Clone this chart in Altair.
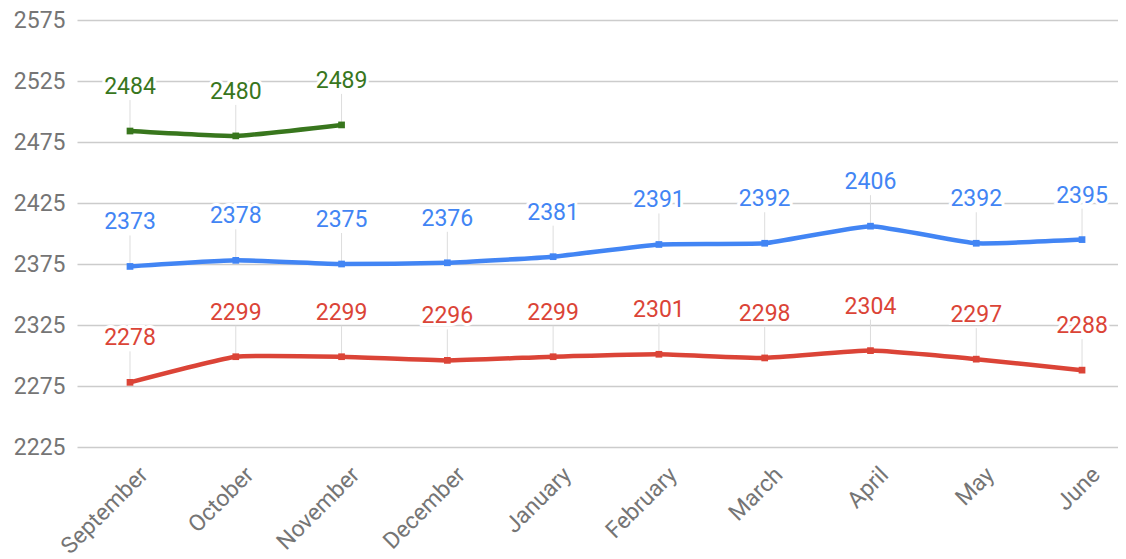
import json
import altair as alt
import pandas as pd

months = ["September", "October", "November", "December", "January",
          "February", "March", "April", "May", "June"]
green_vals = [2484, 2480, 2489]
blue_vals = [2373, 2378, 2375, 2376, 2381, 2391, 2392, 2406, 2392, 2395]
red_vals = [2278, 2299, 2299, 2296, 2299, 2301, 2298, 2304, 2297, 2288]
y_ticks = [2225, 2275, 2325, 2375, 2425, 2475, 2525, 2575]

series_names = ["Green", "Blue", "Red"]
series_colors = ["#38761d", "#4285f4", "#db4437"]

rows = []
for name, vals in zip(series_names, [green_vals, blue_vals, red_vals]):
    for i, v in enumerate(vals):
        rows.append({"idx": i, "month": months[i], "value": v, "series": name})
df = pd.DataFrame(rows)

FONT = "Roboto"
FS = 23

month_js = json.dumps(months)
x_enc = alt.X("idx:Q", title=None,
              scale=alt.Scale(domain=[-0.501, 9.34], nice=False, zero=False),
              axis=alt.Axis(values=list(range(len(months))),
                            labelExpr=f"{month_js}[datum.value]",
                            labelAngle=-45, labelAlign="right", labelBaseline="top",
                            labelOffset=6, labelPadding=16, ticks=False, domain=False,
                            grid=False, labelFontSize=FS, labelFont=FONT,
                            labelColor="#757575", labelFlush=False, labelOverlap=False))
y_enc = alt.Y("value:Q", title=None,
              scale=alt.Scale(domain=[2225, 2575], nice=False, zero=False),
              axis=alt.Axis(values=y_ticks, format="d", ticks=False, domain=False, grid=True,
                            gridColor="#cccccc", gridWidth=1.5, labelFontSize=FS,
                            labelFont=FONT, labelColor="#757575", labelPadding=12))
color_enc = alt.Color("series:N", scale=alt.Scale(domain=series_names, range=series_colors),
                      legend=None)

base = alt.Chart(df).encode(x=x_enc, y=y_enc)

leaders = base.mark_rule(color="#dddddd", strokeWidth=1, y2Offset=-31).encode(y2="value:Q")
lines = base.mark_line(strokeWidth=4.5, interpolate="cardinal", tension=0.6).encode(
    color=color_enc, detail="series:N")
points = base.mark_point(filled=True, size=45, opacity=1, shape="square").encode(color=color_enc)
halo = base.mark_text(dy=-44, fontSize=FS, font=FONT, color="white", stroke="white",
                      strokeWidth=6, baseline="middle").encode(text="value:Q")
labels = base.mark_text(dy=-44, fontSize=FS, font=FONT, baseline="middle").encode(
    text="value:Q", color=color_enc)

chart = alt.layer(leaders, lines, points, halo, labels).properties(
    width=1041, height=427,
    padding={"left": 5, "top": 1, "right": 0, "bottom": 0},
).configure_view(stroke=None)

chart.save("out.html", embed_options={"renderer": "svg", "actions": False})
